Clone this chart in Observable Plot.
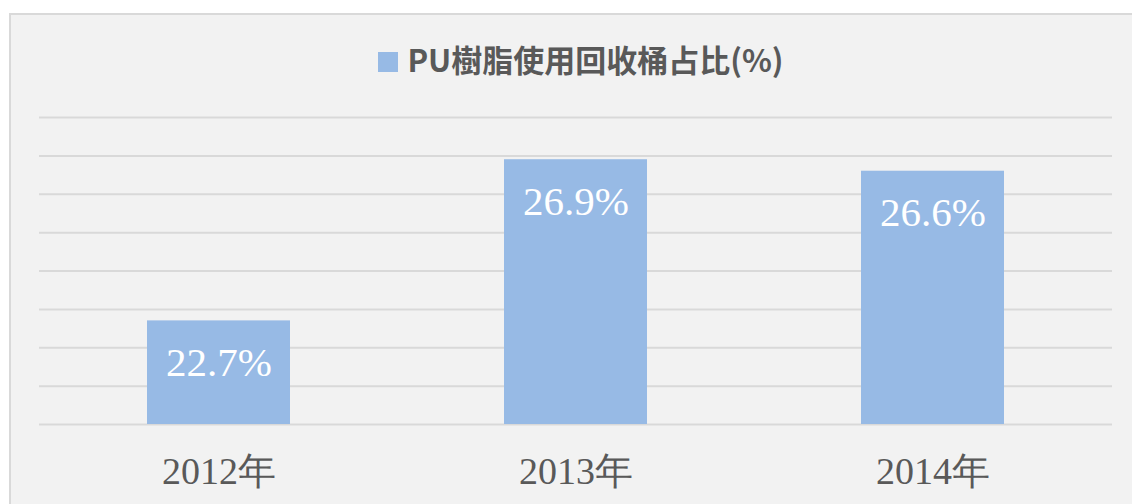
<!DOCTYPE html>
<html>
<head>
<meta charset="utf-8">
<script src="https://cdn.jsdelivr.net/npm/d3@7"></script>
<script src="https://cdn.jsdelivr.net/npm/@observablehq/plot@0.6"></script>
<style>
  html, body { margin: 0; padding: 0; background: #ffffff; }
  #outer { position: relative; width: 1132px; height: 504px; overflow: hidden; background: #ffffff; }
  #panel { position: absolute; left: 9px; top: 13px; width: 1150px; height: 520px; background: #f2f2f2; border: 2px solid #d9d9d9; box-sizing: border-box; }
  #legend { position: absolute; top: 41px; left: 0; width: 1162px; text-align: center; font-family: "Noto Sans CJK TC", "Noto Sans", sans-serif; font-weight: bold; font-size: 31px; color: #595959; line-height: 36px; }
  #legend .sw { display: inline-block; width: 20px; height: 20px; background: #97bae5; margin-right: 9px; vertical-align: 0px; }
  #chart { position: absolute; left: 0; top: 100px; }
</style>
</head>
<body>
<div id="outer">
  <div id="panel"></div>
  <div id="legend"><span class="sw"></span>PU樹脂使用回收桶占比(%)</div>
  <div id="chart"></div>
</div>
<script>
const categories = ["2012年", "2013年", "2014年"];
const values = [22.7, 26.9, 26.6];
const valueLabels = ["22.7%", "26.9%", "26.6%"];
const gridTicks = [20, 21, 22, 23, 24, 25, 26, 27, 28];

const data = categories.map((c, i) => ({cat: c, value: values[i], label: valueLabels[i]}));

const chart = Plot.plot({
  width: 1132,
  height: 404,
  marginTop: 17,
  marginBottom: 80,
  marginLeft: 39,
  marginRight: 20,
  style: {background: "transparent", overflow: "visible"},
  x: {domain: categories, paddingInner: 0.6, paddingOuter: 0.3, axis: null},
  y: {domain: [20, 28], axis: null},
  marks: [
    Plot.ruleY(gridTicks, {stroke: "#d9d9d9", strokeWidth: 2}),
    Plot.barY(data, {x: "cat", y1: 20, y2: "value", fill: "#97bae5"}),
    Plot.text(data, {x: "cat", y: "value", text: "label", dy: 42, fill: "#ffffff", fontSize: 41, fontFamily: "Liberation Serif"}),
    Plot.axisX({tickSize: 0, tickPadding: 33, fontSize: 38, fontFamily: "Liberation Serif", color: "#595959", label: null}),
  ]
});
document.getElementById("chart").appendChild(chart);
</script>
</body>
</html>
